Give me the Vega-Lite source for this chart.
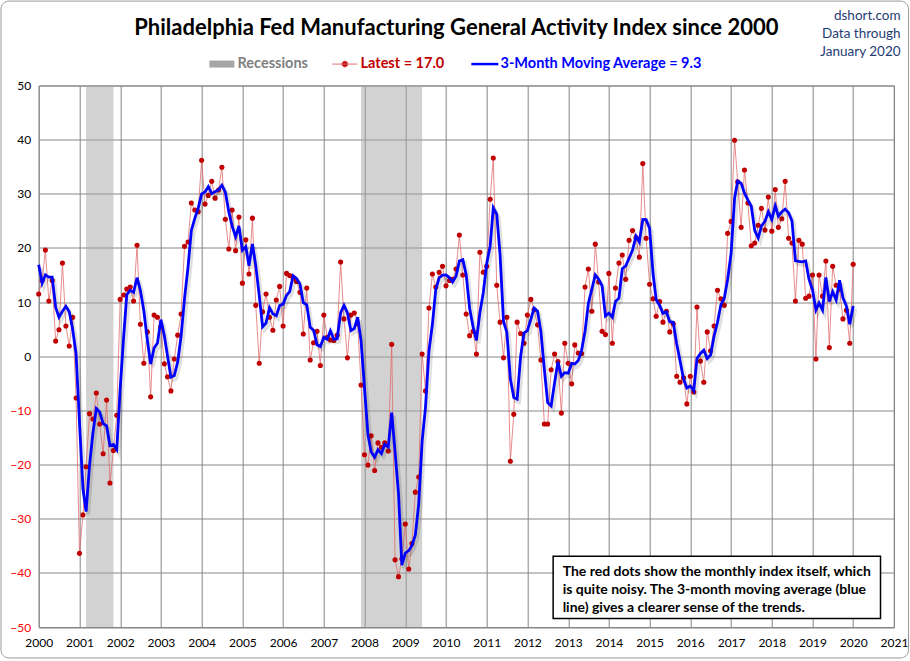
{
  "$schema": "https://vega.github.io/schema/vega-lite/v6.json",
  "autosize": "none",
  "width": 855.3,
  "height": 541.5,
  "padding": {"left": 38.7, "top": 85.5, "right": 16, "bottom": 34},
  "background": "white",
  "title": {
    "text": "Philadelphia Fed Manufacturing General Activity Index since 2000",
    "font": "Lato",
    "fontSize": 22,
    "fontWeight": "bold",
    "color": "#000000",
    "anchor": "middle",
    "frame": "group",
    "offset": -39,
    "dx": -10
  },
  "datasets": {
    "rec": [
      {"start": "2001-03-01", "end": "2001-11-01"},
      {"start": "2007-12-01", "end": "2009-06-01"}
    ],
    "pf": [
      {"d":"2000-01","v":11.5,"ma":16.9},{"d":"2000-02","v":14.0,"ma":13.5},{"d":"2000-03","v":19.6,"ma":15.03},{"d":"2000-04","v":10.2,"ma":14.6},{"d":"2000-05","v":14.0,"ma":14.6},{"d":"2000-06","v":2.8,"ma":9.0},{"d":"2000-07","v":4.9,"ma":7.23},{"d":"2000-08","v":17.2,"ma":8.3},{"d":"2000-09","v":5.6,"ma":9.23},{"d":"2000-10","v":1.9,"ma":8.23},{"d":"2000-11","v":7.2,"ma":4.9},{"d":"2000-12","v":-7.7,"ma":0.47},
      {"d":"2001-01","v":-36.4,"ma":-12.3},{"d":"2001-02","v":-29.3,"ma":-24.47},{"d":"2001-03","v":-20.4,"ma":-28.7},{"d":"2001-04","v":-10.6,"ma":-20.1},{"d":"2001-05","v":-11.6,"ma":-14.2},{"d":"2001-06","v":-6.8,"ma":-9.67},{"d":"2001-07","v":-12.5,"ma":-10.3},{"d":"2001-08","v":-18.0,"ma":-12.43},{"d":"2001-09","v":-8.1,"ma":-12.87},{"d":"2001-10","v":-23.4,"ma":-16.5},{"d":"2001-11","v":-17.4,"ma":-16.3},{"d":"2001-12","v":-10.9,"ma":-17.23},
      {"d":"2002-01","v":10.5,"ma":-5.93},{"d":"2002-02","v":11.3,"ma":3.63},{"d":"2002-03","v":12.4,"ma":11.4},{"d":"2002-04","v":12.8,"ma":12.17},{"d":"2002-05","v":10.2,"ma":11.8},{"d":"2002-06","v":20.5,"ma":14.5},{"d":"2002-07","v":5.9,"ma":12.2},{"d":"2002-08","v":-1.3,"ma":8.37},{"d":"2002-09","v":4.5,"ma":3.03},{"d":"2002-10","v":-7.5,"ma":-1.43},{"d":"2002-11","v":7.6,"ma":1.53},{"d":"2002-12","v":7.2,"ma":2.43},
      {"d":"2003-01","v":5.5,"ma":6.77},{"d":"2003-02","v":-1.4,"ma":3.77},{"d":"2003-03","v":-3.8,"ma":0.1},{"d":"2003-04","v":-6.4,"ma":-3.87},{"d":"2003-05","v":-0.5,"ma":-3.57},{"d":"2003-06","v":3.9,"ma":-1.0},{"d":"2003-07","v":7.8,"ma":3.73},{"d":"2003-08","v":20.3,"ma":10.67},{"d":"2003-09","v":21.1,"ma":16.4},{"d":"2003-10","v":28.3,"ma":23.23},{"d":"2003-11","v":27.0,"ma":25.47},{"d":"2003-12","v":26.7,"ma":27.33},
      {"d":"2004-01","v":36.2,"ma":29.97},{"d":"2004-02","v":28.1,"ma":30.33},{"d":"2004-03","v":29.7,"ma":31.33},{"d":"2004-04","v":32.3,"ma":30.03},{"d":"2004-05","v":29.2,"ma":30.4},{"d":"2004-06","v":30.7,"ma":30.73},{"d":"2004-07","v":34.9,"ma":31.6},{"d":"2004-08","v":25.3,"ma":30.3},{"d":"2004-09","v":19.8,"ma":26.67},{"d":"2004-10","v":27.0,"ma":24.03},{"d":"2004-11","v":19.5,"ma":22.1},{"d":"2004-12","v":25.7,"ma":24.07},
      {"d":"2005-01","v":13.5,"ma":19.57},{"d":"2005-02","v":21.5,"ma":20.23},{"d":"2005-03","v":15.2,"ma":16.73},{"d":"2005-04","v":25.5,"ma":20.73},{"d":"2005-05","v":9.4,"ma":16.7},{"d":"2005-06","v":-1.3,"ma":11.2},{"d":"2005-07","v":8.2,"ma":5.43},{"d":"2005-08","v":11.5,"ma":6.13},{"d":"2005-09","v":7.2,"ma":8.97},{"d":"2005-10","v":4.8,"ma":7.83},{"d":"2005-11","v":10.4,"ma":7.47},{"d":"2005-12","v":12.9,"ma":9.37},
      {"d":"2006-01","v":5.6,"ma":9.63},{"d":"2006-02","v":15.3,"ma":11.27},{"d":"2006-03","v":14.9,"ma":11.93},{"d":"2006-04","v":14.4,"ma":14.87},{"d":"2006-05","v":13.8,"ma":14.37},{"d":"2006-06","v":11.8,"ma":13.33},{"d":"2006-07","v":4.1,"ma":9.9},{"d":"2006-08","v":12.6,"ma":9.5},{"d":"2006-09","v":-0.7,"ma":5.33},{"d":"2006-10","v":2.5,"ma":4.8},{"d":"2006-11","v":4.6,"ma":2.13},{"d":"2006-12","v":-1.7,"ma":1.8},
      {"d":"2007-01","v":7.6,"ma":3.5},{"d":"2007-02","v":3.5,"ma":3.13},{"d":"2007-03","v":3.0,"ma":4.7},{"d":"2007-04","v":2.9,"ma":3.13},{"d":"2007-05","v":3.9,"ma":3.27},{"d":"2007-06","v":17.4,"ma":8.07},{"d":"2007-07","v":6.9,"ma":9.4},{"d":"2007-08","v":-0.3,"ma":8.0},{"d":"2007-09","v":7.6,"ma":4.73},{"d":"2007-10","v":8.0,"ma":5.1},{"d":"2007-11","v":6.0,"ma":7.2},{"d":"2007-12","v":-5.3,"ma":2.9},
      {"d":"2008-01","v":-18.2,"ma":-5.83},{"d":"2008-02","v":-20.1,"ma":-14.53},{"d":"2008-03","v":-14.7,"ma":-17.67},{"d":"2008-04","v":-21.1,"ma":-18.63},{"d":"2008-05","v":-16.0,"ma":-17.27},{"d":"2008-06","v":-16.8,"ma":-17.97},{"d":"2008-07","v":-16.0,"ma":-16.27},{"d":"2008-08","v":-17.5,"ma":-16.77},{"d":"2008-09","v":2.2,"ma":-10.43},{"d":"2008-10","v":-37.6,"ma":-17.63},{"d":"2008-11","v":-40.7,"ma":-25.37},{"d":"2008-12","v":-37.4,"ma":-38.57},
      {"d":"2009-01","v":-31.0,"ma":-36.37},{"d":"2009-02","v":-39.3,"ma":-35.9},{"d":"2009-03","v":-34.6,"ma":-34.97},{"d":"2009-04","v":-25.1,"ma":-33.0},{"d":"2009-05","v":-22.3,"ma":-27.33},{"d":"2009-06","v":0.4,"ma":-15.67},{"d":"2009-07","v":-6.4,"ma":-9.43},{"d":"2009-08","v":8.9,"ma":0.97},{"d":"2009-09","v":15.2,"ma":5.9},{"d":"2009-10","v":12.8,"ma":12.3},{"d":"2009-11","v":15.5,"ma":14.5},{"d":"2009-12","v":16.6,"ma":14.97},
      {"d":"2010-01","v":13.0,"ma":15.03},{"d":"2010-02","v":14.0,"ma":14.53},{"d":"2010-03","v":14.2,"ma":13.73},{"d":"2010-04","v":16.1,"ma":14.77},{"d":"2010-05","v":22.4,"ma":17.57},{"d":"2010-06","v":15.0,"ma":17.83},{"d":"2010-07","v":7.8,"ma":15.07},{"d":"2010-08","v":3.8,"ma":8.87},{"d":"2010-09","v":4.6,"ma":5.4},{"d":"2010-10","v":0.4,"ma":2.93},{"d":"2010-11","v":19.2,"ma":8.07},{"d":"2010-12","v":15.5,"ma":11.7},
      {"d":"2011-01","v":16.6,"ma":17.1},{"d":"2011-02","v":29.0,"ma":20.37},{"d":"2011-03","v":36.6,"ma":27.4},{"d":"2011-04","v":13.1,"ma":26.23},{"d":"2011-05","v":6.3,"ma":18.67},{"d":"2011-06","v":-0.3,"ma":6.37},{"d":"2011-07","v":7.2,"ma":4.4},{"d":"2011-08","v":-19.4,"ma":-4.17},{"d":"2011-09","v":-10.7,"ma":-7.63},{"d":"2011-10","v":6.3,"ma":-7.93},{"d":"2011-11","v":4.2,"ma":-0.07},{"d":"2011-12","v":2.4,"ma":4.3},
      {"d":"2012-01","v":7.6,"ma":4.73},{"d":"2012-02","v":10.5,"ma":6.83},{"d":"2012-03","v":8.6,"ma":8.9},{"d":"2012-04","v":5.8,"ma":8.3},{"d":"2012-05","v":-0.7,"ma":4.57},{"d":"2012-06","v":-12.5,"ma":-2.47},{"d":"2012-07","v":-12.5,"ma":-8.57},{"d":"2012-08","v":-2.5,"ma":-9.17},{"d":"2012-09","v":0.4,"ma":-4.87},{"d":"2012-10","v":-1.0,"ma":-1.03},{"d":"2012-11","v":-10.5,"ma":-3.7},{"d":"2012-12","v":2.4,"ma":-3.03},
      {"d":"2013-01","v":-1.3,"ma":-3.13},{"d":"2013-02","v":-5.1,"ma":-1.33},{"d":"2013-03","v":2.1,"ma":-1.43},{"d":"2013-04","v":0.6,"ma":-0.8},{"d":"2013-05","v":0.5,"ma":1.07},{"d":"2013-06","v":12.8,"ma":4.63},{"d":"2013-07","v":16.1,"ma":9.8},{"d":"2013-08","v":8.3,"ma":12.4},{"d":"2013-09","v":20.7,"ma":15.03},{"d":"2013-10","v":13.7,"ma":14.23},{"d":"2013-11","v":4.6,"ma":13.0},{"d":"2013-12","v":4.0,"ma":7.43},
      {"d":"2014-01","v":15.3,"ma":7.97},{"d":"2014-02","v":2.4,"ma":7.23},{"d":"2014-03","v":12.6,"ma":10.1},{"d":"2014-04","v":17.2,"ma":10.73},{"d":"2014-05","v":18.7,"ma":16.17},{"d":"2014-06","v":14.2,"ma":16.7},{"d":"2014-07","v":21.4,"ma":18.1},{"d":"2014-08","v":23.2,"ma":19.6},{"d":"2014-09","v":21.9,"ma":22.17},{"d":"2014-10","v":18.3,"ma":21.13},{"d":"2014-11","v":35.6,"ma":25.27},{"d":"2014-12","v":21.8,"ma":25.23},
      {"d":"2015-01","v":13.3,"ma":23.57},{"d":"2015-02","v":10.6,"ma":15.23},{"d":"2015-03","v":7.4,"ma":10.43},{"d":"2015-04","v":10.1,"ma":9.37},{"d":"2015-05","v":6.3,"ma":7.93},{"d":"2015-06","v":8.3,"ma":8.23},{"d":"2015-07","v":4.5,"ma":6.37},{"d":"2015-08","v":6.0,"ma":6.27},{"d":"2015-09","v":-3.7,"ma":2.27},{"d":"2015-10","v":-4.8,"ma":-0.83},{"d":"2015-11","v":-4.0,"ma":-4.17},{"d":"2015-12","v":-8.8,"ma":-5.87},
      {"d":"2016-01","v":-3.7,"ma":-5.5},{"d":"2016-02","v":-6.6,"ma":-6.37},{"d":"2016-03","v":9.1,"ma":-0.4},{"d":"2016-04","v":-0.9,"ma":0.53},{"d":"2016-05","v":-4.8,"ma":1.13},{"d":"2016-06","v":4.5,"ma":-0.4},{"d":"2016-07","v":1.0,"ma":0.23},{"d":"2016-08","v":5.6,"ma":3.7},{"d":"2016-09","v":12.2,"ma":6.27},{"d":"2016-10","v":10.6,"ma":9.47},{"d":"2016-11","v":9.4,"ma":10.73},{"d":"2016-12","v":22.7,"ma":14.23},
      {"d":"2017-01","v":24.9,"ma":19.0},{"d":"2017-02","v":39.9,"ma":29.17},{"d":"2017-03","v":32.2,"ma":32.33},{"d":"2017-04","v":23.8,"ma":31.97},{"d":"2017-05","v":34.4,"ma":30.13},{"d":"2017-06","v":28.3,"ma":28.83},{"d":"2017-07","v":20.4,"ma":27.7},{"d":"2017-08","v":20.9,"ma":23.2},{"d":"2017-09","v":24.2,"ma":21.83},{"d":"2017-10","v":27.3,"ma":24.13},{"d":"2017-11","v":23.3,"ma":24.93},{"d":"2017-12","v":29.4,"ma":26.67},
      {"d":"2018-01","v":23.1,"ma":25.27},{"d":"2018-02","v":30.8,"ma":27.77},{"d":"2018-03","v":23.8,"ma":25.9},{"d":"2018-04","v":25.4,"ma":26.67},{"d":"2018-05","v":32.3,"ma":27.17},{"d":"2018-06","v":21.8,"ma":26.5},{"d":"2018-07","v":20.9,"ma":25.0},{"d":"2018-08","v":10.2,"ma":17.63},{"d":"2018-09","v":21.4,"ma":17.5},{"d":"2018-10","v":20.7,"ma":17.43},{"d":"2018-11","v":10.7,"ma":17.6},{"d":"2018-12","v":11.1,"ma":14.17},
      {"d":"2019-01","v":15.0,"ma":12.27},{"d":"2019-02","v":-0.5,"ma":8.53},{"d":"2019-03","v":15.0,"ma":9.83},{"d":"2019-04","v":11.1,"ma":8.53},{"d":"2019-05","v":17.6,"ma":14.57},{"d":"2019-06","v":1.6,"ma":10.1},{"d":"2019-07","v":16.6,"ma":11.93},{"d":"2019-08","v":13.1,"ma":10.43},{"d":"2019-09","v":12.4,"ma":14.03},{"d":"2019-10","v":6.9,"ma":10.8},{"d":"2019-11","v":8.5,"ma":9.27},{"d":"2019-12","v":2.4,"ma":5.93},
      {"d":"2020-01","v":17.0,"ma":9.3}
    ]
  },
  "encoding": {
    "x": {
      "type": "temporal",
      "scale": {"domain": [{"year": 2000, "month": 1, "date": 1}, {"year": 2021, "month": 1, "date": 1}], "nice": false},
      "axis": {
        "title": null,
        "format": "%Y",
        "tickCount": {"interval": "year", "step": 1},
        "labelFlush": false,
        "labelOverlap": false,
        "labelFont": "Lato",
        "labelFontSize": 12,
        "labelColor": "#000000",
        "labelPadding": 10,
        "ticks": false,
        "tickSize": 0,
        "domain": false,
        "grid": true,
        "gridColor": "#868686",
        "gridOpacity": 1
      }
    },
    "y": {
      "type": "quantitative",
      "scale": {"domain": [-50, 50], "nice": false},
      "axis": {
        "title": null,
        "values": [-50, -40, -30, -20, -10, 0, 10, 20, 30, 40, 50],
        "labelFont": "Lato",
        "labelFontSize": 12,
        "labelColor": {"expr": "datum.value < 0 ? '#ff0000' : '#000000'"},
        "labelPadding": 8,
        "labelOverlap": false,
        "ticks": false,
        "tickSize": 0,
        "domain": false,
        "grid": true,
        "gridColor": "#868686",
        "gridOpacity": 1
      }
    }
  },
  "layer": [
    {
      "data": {"name": "rec"},
      "mark": {"type": "rect", "opacity": 0.5},
      "encoding": {
        "x": {"field": "start", "type": "temporal"},
        "x2": {"field": "end"},
        "y": {"datum": 50},
        "y2": {"datum": -50},
        "color": {
          "datum": "Recessions",
          "type": "nominal",
          "scale": {
            "domain": ["Recessions", "Latest = 17.0", "3-Month Moving Average = 9.3"],
            "range": ["#a6a6a6", "#c00000", "#0000ff"]
          },
          "legend": {
            "title": null,
            "orient": "none",
            "legendX": 175.9,
            "legendY": -28.8,
            "direction": "horizontal",
            "padding": 0,
            "symbolSize": 625,
            "labelFont": "Lato",
            "labelFontSize": 14.5,
            "labelFontWeight": "bold",
            "labelOffset": 8.4,
            "columnPadding": 21,
            "labelLimit": 400,
            "encoding": {
              "symbols": {
                "shape": {"value": {"expr": "datum.value === 'Recessions' ? 'M-1,-0.28H1V0.28H-1Z' : datum.value === 'Latest = 17.0' ? 'M-1,0H1M-0.24,0A0.24,0.24 0 1,1 0.24,0A0.24,0.24 0 1,1 -0.24,0Z' : 'M-1.08,0H1.08'"}},
                "fill": {"value": {"expr": "datum.value === 'Recessions' ? '#d3d3d3' : datum.value === 'Latest = 17.0' ? '#c00000' : 'transparent'"}},
                "stroke": {"value": {"expr": "datum.value === 'Recessions' ? 'transparent' : datum.value === 'Latest = 17.0' ? '#e46c6c' : '#0000ff'"}},
                "strokeWidth": {"value": {"expr": "datum.value === 'Recessions' ? 0 : datum.value === 'Latest = 17.0' ? 1 : 2.5"}},
                "opacity": {"value": 1}
              },
              "labels": {
                "fill": {"value": {"expr": "datum.value === 'Recessions' ? '#7f7f7f' : datum.value === 'Latest = 17.0' ? '#c00000' : '#0000ff'"}}
              }
            }
          }
        }
      }
    },
    {
      "mark": {"type": "rule", "color": "#000000", "strokeWidth": 2},
      "encoding": {"y": {"datum": 0}}
    },
    {
      "data": {"name": "pf"},
      "mark": {"type": "line", "color": "#e06666", "opacity": 0.75, "strokeWidth": 1},
      "encoding": {
        "x": {"field": "d", "type": "temporal"},
        "y": {"field": "v", "type": "quantitative"}
      }
    },
    {
      "data": {"name": "pf"},
      "mark": {"type": "point", "filled": true, "color": "#c00000", "opacity": 1, "size": 26},
      "encoding": {
        "x": {"field": "d", "type": "temporal"},
        "y": {"field": "v", "type": "quantitative"}
      }
    },
    {
      "data": {"name": "pf"},
      "mark": {"type": "line", "color": "#000000", "opacity": 0.12, "strokeWidth": 4, "xOffset": 2, "yOffset": 3},
      "encoding": {
        "x": {"field": "d", "type": "temporal"},
        "y": {"field": "ma", "type": "quantitative"}
      }
    },
    {
      "data": {"name": "pf"},
      "mark": {"type": "line", "color": "#0000ff", "strokeWidth": 2.8},
      "encoding": {
        "x": {"field": "d", "type": "temporal"},
        "y": {"field": "ma", "type": "quantitative"}
      }
    },
    {
      "data": {"values": [{}]},
      "mark": {"type": "rect", "color": "#000000", "opacity": 0.25, "xOffset": 4, "yOffset": 4, "clip": false},
      "encoding": {
        "x": {"datum": {"year": 2012, "month": 8, "date": 19}, "type": "temporal"},
        "x2": {"datum": {"year": 2020, "month": 9, "date": 2}},
        "y": {"datum": -36.94, "type": "quantitative"},
        "y2": {"datum": -48.43}
      }
    },
    {
      "data": {"values": [{}]},
      "mark": {"type": "rect", "fill": "#ffffff", "stroke": "#000000", "strokeWidth": 1.5, "clip": false},
      "encoding": {
        "x": {"datum": {"year": 2012, "month": 8, "date": 19}, "type": "temporal"},
        "x2": {"datum": {"year": 2020, "month": 9, "date": 2}},
        "y": {"datum": -36.94, "type": "quantitative"},
        "y2": {"datum": -48.43}
      }
    },
    {
      "data": {"values": [{}]},
      "mark": {
        "type": "text",
        "align": "left",
        "baseline": "top",
        "font": "Lato",
        "fontSize": 14,
        "fontWeight": "bold",
        "color": "#000000",
        "lineHeight": 18.2,
        "clip": false
      },
      "encoding": {
        "x": {"datum": {"year": 2012, "month": 11, "date": 12}, "type": "temporal"},
        "y": {"datum": -38.55, "type": "quantitative"},
        "text": {"value": ["The red dots show the monthly  index itself, which", "is quite noisy. The 3-month moving average (blue", "line) gives a clearer sense of the trends."]}
      }
    },
    {
      "data": {"values": [{}]},
      "mark": {
        "type": "text",
        "align": "right",
        "baseline": "top",
        "font": "Lato",
        "fontSize": 13.5,
        "color": "#1f3c74",
        "lineHeight": 17.8,
        "clip": false
      },
      "encoding": {
        "x": {"datum": {"year": 2021, "month": 3, "date": 1}, "type": "temporal"},
        "y": {"datum": 64.1, "type": "quantitative"},
        "text": {"value": ["dshort.com", "Data through", "January 2020"]}
      }
    },
    {
      "data": {"values": [{}]},
      "mark": {"type": "rect", "fillOpacity": 0, "stroke": "#9a9a9a", "strokeWidth": 1, "cornerRadius": 8, "clip": false},
      "encoding": {
        "x": {"datum": {"year": 1999, "month": 1, "date": 28}, "type": "temporal"},
        "x2": {"datum": {"year": 2021, "month": 5, "date": 11}},
        "y": {"datum": 65.59, "type": "quantitative"},
        "y2": {"datum": -55.72}
      }
    }
  ],
  "config": {
    "font": "Lato",
    "view": {"stroke": "#868686", "strokeWidth": 1}
  }
}
